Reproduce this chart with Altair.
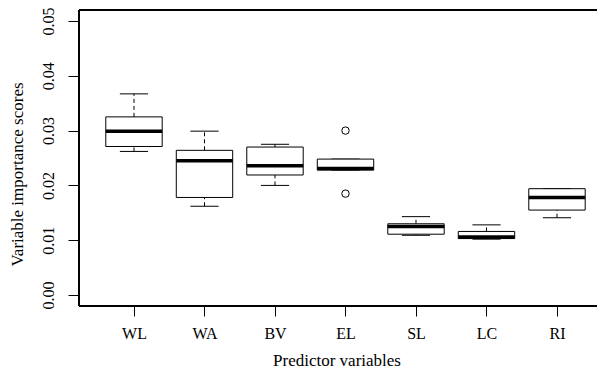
import json
import altair as alt
import pandas as pd

categories = ["WL", "WA", "BV", "EL", "SL", "LC", "RI"]
whisker_low = [0.0262, 0.0162, 0.0200, 0.0228, 0.0109, 0.0102, 0.0141]
q1 = [0.0271, 0.0178, 0.0219, 0.0228, 0.0111, 0.0103, 0.0155]
median = [0.0299, 0.0245, 0.0236, 0.0231, 0.0125, 0.0106, 0.0178]
q3 = [0.0325, 0.0264, 0.0270, 0.0248, 0.0130, 0.0116, 0.0194]
whisker_high = [0.0367, 0.0299, 0.0275, 0.0248, 0.0143, 0.0128, 0.0194]
outlier_cat = ["EL", "EL"]
outlier_val = [0.0300, 0.0185]
y_ticks = [0.00, 0.01, 0.02, 0.03, 0.04, 0.05]

FONT = "Liberation Serif"
W, H = 518, 296
X_DOMAIN = [0.22, 0.22 + W / 70.5]
Y_DOMAIN = [-0.002, 0.052]

df = pd.DataFrame({
    "cat": categories,
    "pos": list(range(1, len(categories) + 1)),
    "wlo": whisker_low, "q1": q1, "med": median, "q3": q3, "whi": whisker_high,
})
odf = pd.DataFrame({
    "pos": [categories.index(c) + 1 for c in outlier_cat],
    "val": outlier_val,
})

xs = alt.Scale(domain=X_DOMAIN, nice=False, zero=False)
ys = alt.Scale(domain=Y_DOMAIN, nice=False, zero=False)

label_expr = json.dumps(categories) + "[datum.value - 1]"

base = alt.Chart(df).transform_calculate(
    bl="datum.pos - 0.4", br="datum.pos + 0.4",
    cl="datum.pos - 0.2", cr="datum.pos + 0.2",
)

x_axis = alt.Axis(
    values=list(range(1, len(categories) + 1)), labelExpr=label_expr,
    title="Predictor variables", grid=False, domain=False,
    tickColor="black", tickSize=10, tickWidth=1,
    labelFont=FONT, labelFontSize=16, labelColor="black",
    labelBaseline="alphabetic", labelPadding=22,
    titleFont=FONT, titleFontSize=17, titleFontWeight="normal", titleColor="black",
    titleX=257.5, titleY=59, titleBaseline="alphabetic", titleAnchor="start", titleAlign="center",
)
y_axis = alt.Axis(
    values=y_ticks, format=".2f", title="Variable importance scores",
    grid=False, domain=False, tickColor="black", tickSize=11, tickWidth=1,
    labelFont=FONT, labelFontSize=16, labelColor="black",
    labelAngle=270, labelAlign="center", labelBaseline="alphabetic", labelPadding=15,
    labelOverlap=False, labelBound=False, labelFlush=False,
    titleFont=FONT, titleFontSize=17, titleFontWeight="normal", titleColor="black",
    titleAngle=270, titleX=-57, titleY=164, titleAlign="center", titleBaseline="alphabetic",
)

X = lambda f: alt.X(f, scale=xs, axis=x_axis)
Y = lambda f: alt.Y(f, scale=ys, axis=y_axis)

upper_wh = base.mark_rule(color="black", strokeDash=[4, 3], strokeWidth=1).encode(
    x=X("pos:Q"), y=Y("q3:Q"), y2="whi:Q",
)
lower_wh = base.mark_rule(color="black", strokeDash=[4, 3], strokeWidth=1).encode(
    x=X("pos:Q"), y=Y("wlo:Q"), y2="q1:Q",
)
cap_hi = base.mark_rule(color="black", strokeWidth=1).encode(
    x=X("cl:Q"), x2="cr:Q", y=Y("whi:Q"),
)
cap_lo = base.mark_rule(color="black", strokeWidth=1).encode(
    x=X("cl:Q"), x2="cr:Q", y=Y("wlo:Q"),
)
boxes = base.mark_rect(fill="white", stroke="black", strokeWidth=1).encode(
    x=X("bl:Q"), x2="br:Q", y=Y("q1:Q"), y2="q3:Q",
)
medians = base.mark_rule(color="black", strokeWidth=3.5).encode(
    x=X("bl:Q"), x2="br:Q", y=Y("med:Q"),
)
outliers = alt.Chart(odf).mark_point(
    shape="circle", filled=False, color="black", size=55, strokeWidth=1, opacity=1
).encode(
    x=X("pos:Q"), y=Y("val:Q"),
)

frame_top = alt.Chart(df).mark_rule(color="black", strokeWidth=1).encode(
    x=alt.value(0), x2=alt.value(W), y=alt.value(0))
frame_bottom = alt.Chart(df).mark_rule(color="black", strokeWidth=1).encode(
    x=alt.value(0), x2=alt.value(W), y=alt.value(H))
frame_left = alt.Chart(df).mark_rule(color="black", strokeWidth=1).encode(
    x=alt.value(0), y=alt.value(0), y2=alt.value(H))

chart = alt.layer(
    upper_wh, lower_wh, cap_hi, cap_lo, boxes, medians, outliers,
    frame_top, frame_bottom, frame_left,
).properties(
    width=W, height=H,
    autosize=alt.AutoSizeParams(type="none"),
    padding={"left": 71, "top": 2, "right": 0, "bottom": 67},
    background="white",
).configure_view(stroke="transparent", strokeWidth=0)

chart.save("out.html", embed_options={"renderer": "svg", "actions": False})
